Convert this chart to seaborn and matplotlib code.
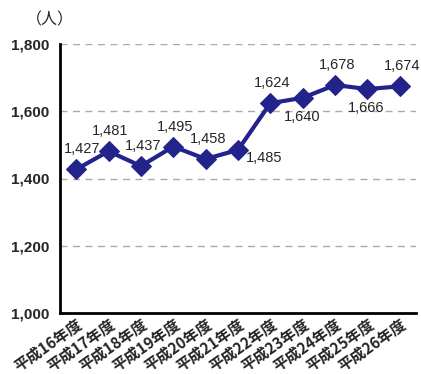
import matplotlib
matplotlib.use("Agg")
import matplotlib.pyplot as plt
import seaborn as sns
import pandas as pd
from matplotlib.ticker import FixedLocator, FuncFormatter

years = ["平成16年度", "平成17年度", "平成18年度", "平成19年度", "平成20年度", "平成21年度",
         "平成22年度", "平成23年度", "平成24年度", "平成25年度", "平成26年度"]
counts = [1427, 1481, 1437, 1495, 1458, 1485, 1624, 1640, 1678, 1666, 1674]
# where each value label sits relative to its point: above / below / right
label_side = ["above", "above", "above", "above", "above", "right",
              "above", "below", "above", "below", "above"]

sns.set_style("white")
plt.rcParams["font.family"] = ["Liberation Sans", "Noto Sans CJK JP", "DejaVu Sans"]

df = pd.DataFrame({"idx": range(len(years)), "count": counts})

fig = plt.figure(figsize=(4.21, 3.74), dpi=100)
ax = fig.add_axes([60 / 421, 1 - 313 / 374, 356 / 421, 269 / 374])

line_color = "#23238c"
sns.lineplot(data=df, x="idx", y="count", ax=ax, color=line_color, linewidth=3,
             marker="D", markersize=10, markeredgecolor=line_color)

ax.set_xlim(-0.5, len(years) - 0.5)
ax.set_ylim(1000, 1800)
ax.set_yticks([1000, 1200, 1400, 1600, 1800])
ax.yaxis.set_major_formatter(FuncFormatter(lambda v, p: f"{int(v):,}"))
for y in [1200, 1400, 1600, 1800]:
    ax.axhline(y, color="#aaaaaa", linewidth=1, linestyle=(0, (5, 4)), zorder=0)

# category labels at centres, tick marks at category boundaries
ax.set_xticks(range(len(years)))
ax.set_xticklabels(years, rotation=35, ha="right", va="top", rotation_mode="anchor",
                   fontfamily=["Noto Sans CJK JP"], fontweight="bold", fontsize=11)
ax.xaxis.set_minor_locator(FixedLocator([i - 0.5 for i in range(len(years) + 1)]))
ax.tick_params(axis="x", which="major", length=0, pad=2)
ax.tick_params(axis="x", which="minor", length=5, width=2, color="black", direction="out")
ax.tick_params(axis="y", length=5, width=2, color="black", direction="out", labelsize=11, pad=3)
for t in ax.get_yticklabels():
    t.set_fontweight("bold")

for s in ["top", "right"]:
    ax.spines[s].set_visible(False)
for s in ["left", "bottom"]:
    ax.spines[s].set_linewidth(2)
    ax.spines[s].set_color("black")

ax.set_xlabel("")
ax.set_ylabel("")

offsets = {"above": (2, 20), "below": (-1, -19), "right": (26, -8)}
for i, (v, side) in enumerate(zip(counts, label_side)):
    dx, dy = offsets[side]
    if i == 0:
        dx += 4  # keep the first label clear of the y axis
    ax.annotate(f"{v:,}", (i, v), xytext=(dx, dy), textcoords="offset pixels",
                ha="center", va="center", fontsize=10.5)

fig.text(50 / 421, 1 - 20 / 374, "（人）", ha="center", va="center", fontsize=11.5,
         fontfamily=["Noto Sans CJK JP"])

fig.savefig("out.png", dpi=100)
